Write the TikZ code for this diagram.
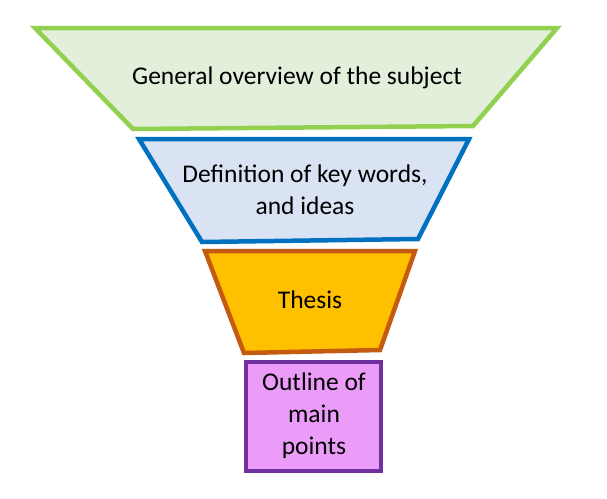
\documentclass[tikz,border=0pt]{standalone}
\usepackage{fontspec}
\setmainfont{Carlito}
\begin{document}
\begin{tikzpicture}[x=1pt,y=-1pt,
  seg/.style={line width=4.5pt,line join=miter},
  lbl/.style={font=\fontsize{25.5}{32}\selectfont,align=center,text=black}]
\useasboundingbox (0,0) rectangle (607,498);
\definecolor{g1}{HTML}{E2EFDA}\definecolor{g2}{HTML}{92D050}
\definecolor{b1}{HTML}{DAE3F3}\definecolor{b2}{HTML}{0070C0}
\definecolor{o1}{HTML}{FFC000}\definecolor{o2}{HTML}{C55A11}
\definecolor{p1}{HTML}{EA9CF8}\definecolor{p2}{HTML}{7030A0}
\draw[seg,draw=g2,fill=g1] (35,28) -- (557,28) -- (473,126) -- (133,129) -- cycle;
\draw[seg,draw=b2,fill=b1] (139,139) -- (469,139) -- (418,239) -- (202,242) -- cycle;
\draw[seg,draw=o2,fill=o1] (205,251) -- (415,251) -- (380,350) -- (244,353) -- cycle;
\draw[seg,draw=p2,fill=p1] (246,362) rectangle (381,471);
\node[lbl] (n1) at (297,78) {General overview of the subject};
\node[lbl] (n2) at (305,190) {Definition of key words,\\and ideas};
\node[lbl] (n3) at (310,300) {Thesis};
\node[lbl] (n4) at (314,416) {Outline of\\main\\points};
\end{tikzpicture}
\end{document}
